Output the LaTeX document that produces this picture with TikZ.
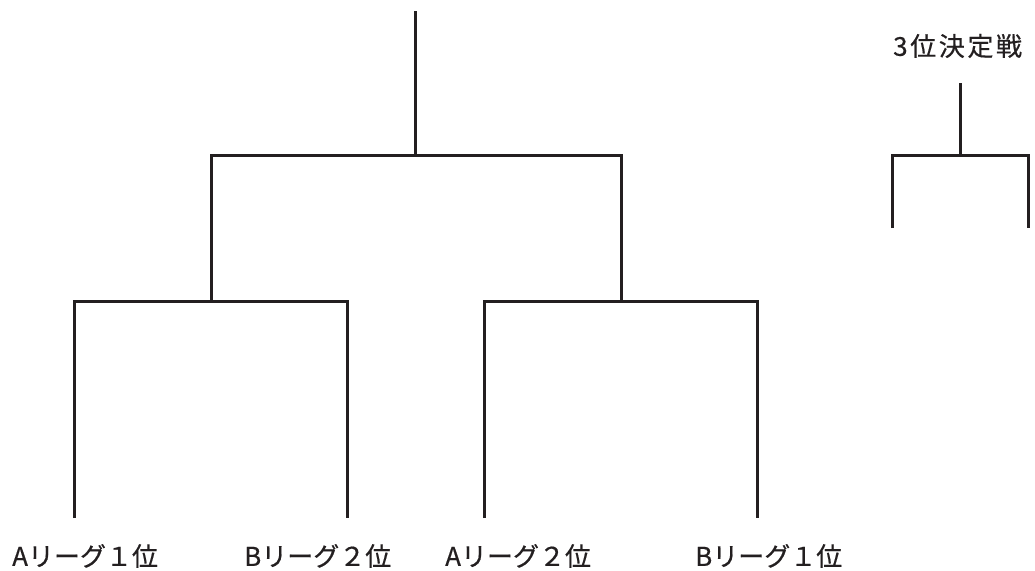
\documentclass[tikz,border=0pt]{standalone}
\usepackage{fontspec}
\setmainfont{Noto Sans CJK JP}[FakeBold=0.5]
\newfontfamily\jpwide{Noto Sans CJK JP}[FakeBold=0.5, LetterSpace=10]
\definecolor{ink}{HTML}{231F20}
\begin{document}
\begin{tikzpicture}[
		x=1pt, y=-1pt,
			bracket/.style = {
				draw = ink,
				line width = 3pt
			},
			team/.style = {
				font = \fontsize{26}{26}\selectfont,
				text = ink,
				inner sep = 0pt,
				anchor = west
			}
		]
		\useasboundingbox (0,0) rectangle (1035,570);
		% first round
		\coordinate (A1) at (74,518);
		\coordinate (B2) at (347,518);
		\coordinate (A2) at (484,518);
		\coordinate (B1) at (757,518);
		\coordinate (S1) at (211,301);
		\coordinate (S2) at (621,301);
		\coordinate (F)  at (415,155);
		\coordinate (W)  at (415,11);
		\draw[bracket] (A1) |- (S1) -| (B2);
		\draw[bracket] (A2) |- (S2) -| (B1);
		\draw[bracket] (S1) |- (F) -| (S2);
		\draw[bracket] (F) -- (W);
		% third place
		\coordinate (L1) at (892,228);
		\coordinate (L2) at (1028,228);
		\coordinate (T)  at (960,155);
		\coordinate (TW) at (960,83);
		\draw[bracket] (L1) |- (T) -| (L2);
		\draw[bracket] (T) -- (TW);
		\node[team] (tA1) at (12,556)  {Aリーグ１位};
		\node[team] (tB2) at (244,556) {Bリーグ２位};
		\node[team] (tA2) at (445,556) {Aリーグ２位};
		\node[team] (tB1) at (695,556) {Bリーグ１位};
		\node[team, font=\jpwide\fontsize{26}{26}\selectfont] (t3) at (893,46) {3位決定戦};
	\end{tikzpicture}
\end{document}
